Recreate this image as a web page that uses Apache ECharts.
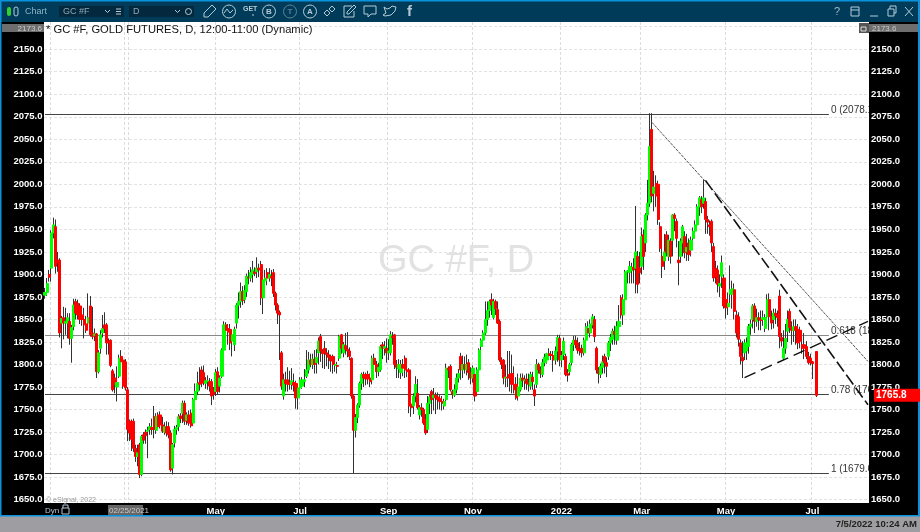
<!DOCTYPE html>
<html>
<head>
<meta charset="utf-8">
<style>html,body{margin:0;padding:0;background:#fff}#chart{width:920px;height:532px}</style>
<script src="https://cdn.jsdelivr.net/npm/echarts@6/dist/echarts.min.js"></script>
</head>
<body>
<div id="chart"></div>
<script>
// daily OHLC, 10 bars per line
const opens = [
1877,1880,1900,1907,1946,1953,1916,1916,1846,1852,
1846,1846,1848,1829,1842,1870,1868,1865,1855,1850,
1845,1846,1865,1835,1832,1834,1792,1818,1835,1844,
1844,1826,1827,1793,1785,1775,1787,1809,1805,1803,
1772,1737,1737,1737,1707,1698,1711,1678,1722,1725,
1726,1728,1730,1742,1727,1744,1744,1733,1725,1731,
1731,1724,1685,1713,1728,1731,1743,1746,1757,1738,
1744,1746,1735,1761,1770,1780,1794,1791,1779,1781,
1781,1781,1772,1770,1792,1776,1787,1816,1844,1840,
1839,1826,1822,1846,1866,1870,1881,1872,1881,1897,
1896,1900,1903,1903,1907,1911,1874,1893,1902,1896,
1898,1902,1879,1866,1858,1813,1765,1783,1783,1780,
1778,1780,1779,1763,1774,1776,1781,1787,1794,1805,
1800,1806,1802,1813,1831,1815,1818,1813,1811,1809,
1809,1799,1799,1807,1833,1813,1821,1817,1815,1807,
1765,1727,1741,1755,1779,1789,1789,1789,1785,1783,
1807,1800,1792,1794,1822,1818,1818,1813,1813,1831,
1833,1800,1795,1791,1800,1807,1794,1794,1756,1754,
1765,1768,1744,1752,1750,1739,1728,1757,1770,1763,
1766,1764,1762,1759,1754,1761,1796,1798,1770,1766,
1772,1785,1809,1794,1800,1794,1802,1791,1785,1789,
1770,1794,1820,1827,1835,1850,1860,1872,1852,1870,
1861,1848,1805,1805,1785,1786,1789,1790,1778,1778,
1765,1772,1785,1782,1784,1780,1776,1786,1772,1778,
1800,1794,1789,1802,1805,1812,1811,1810,1805,1815,
1829,1805,1811,1809,1790,1792,1802,1822,1827,1824,
1817,1818,1813,1827,1840,1835,1844,1850,1818,1794,
1789,1797,1809,1802,1809,1824,1828,1837,1827,1842,
1874,1855,1872,1903,1902,1904,1908,1907,1920,1907,
1909,1944,1935,1966,1979,2061,1990,2001,2000,1953,
1920,1915,1944,1920,1937,1938,1966,1959,1916,1920,
1935,1942,1925,1935,1927,1940,1948,1955,1975,1983,
1979,1981,1961,1955,1959,1931,1907,1905,1887,1898,
1896,1872,1864,1878,1878,1883,1855,1853,1824,1808,
1813,1815,1820,1842,1850,1865,1848,1852,1851,1850,
1840,1853,1872,1853,1850,1857,1855,1876,1830,1807,
1818,1837,1859,1841,1838,1842,1839,1838,1822,1822,
1820,1809,1807,1803,null,1814.5];
const closes = [
1880,1890,1897,1946,1955,1909,1913,1835,1851,1846,
1848,1852,1829,1841,1866,1857,1855,1850,1850,1844,
1838,1852,1833,1831,1834,1792,1813,1833,1840,1840,
1824,1824,1799,1772,1778,1780,1807,1803,1776,1774,
1728,1724,1717,1707,1698,1702,1678,1720,1716,1721,
1727,1731,1728,1728,1742,1731,1733,1726,1731,1724,
1722,1683,1711,1728,1730,1742,1740,1757,1737,1744,
1735,1732,1761,1770,1779,1778,1779,1780,1782,1782,
1776,1765,1767,1791,1770,1785,1816,1844,1838,1836,
1824,1833,1839,1866,1870,1881,1871,1882,1898,1896,
1902,1905,1901,1907,1905,1874,1894,1896,1896,1900,
1896,1879,1866,1857,1855,1776,1783,1779,1778,1778,
1782,1777,1763,1774,1783,1783,1783,1794,1805,1800,
1806,1800,1808,1826,1815,1812,1813,1811,1808,1804,
1800,1800,1798,1831,1818,1822,1817,1815,1809,1765,
1727,1741,1755,1779,1789,1785,1784,1784,1781,1807,
1800,1792,1797,1820,1818,1820,1813,1815,1833,1830,
1800,1797,1800,1800,1796,1794,1792,1754,1752,1765,
1778,1752,1752,1750,1735,1724,1757,1764,1761,1766,
1763,1761,1759,1757,1759,1796,1794,1772,1767,1772,
1785,1790,1794,1800,1795,1800,1791,1785,1796,1765,
1794,1816,1827,1835,1850,1860,1870,1866,1870,1862,
1846,1805,1800,1785,1786,1785,1785,1778,1772,1763,
1775,1785,1782,1783,1779,1778,1789,1781,1765,1800,
1794,1790,1802,1808,1812,1810,1810,1805,1815,1830,
1805,1810,1826,1789,1788,1800,1822,1827,1822,1816,
1815,1813,1827,1842,1835,1845,1853,1831,1794,1790,
1798,1803,1802,1798,1824,1830,1837,1833,1842,1848,
1855,1872,1903,1904,1909,1908,1905,1925,1889,1902,
1942,1920,1966,1979,2042,1987,1997,1987,1961,1929,
1909,1925,1924,1938,1920,1966,1962,1940,1913,1937,
1953,1924,1930,1922,1938,1948,1955,1975,1985,1975,
1985,1961,1958,1953,1935,1896,1898,1889,1890,1913,
1865,1863,1868,1883,1884,1859,1835,1828,1809,1804,
1824,1824,1842,1845,1865,1848,1852,1850,1849,1852,
1852,1872,1853,1846,1857,1854,1852,1831,1826,1818,
1829,1850,1841,1838,1842,1838,1824,1826,1818,1818,
1809,1802,1802,1801,null,1765.8];
const lows = [
1873,1876,1892,1892,1940,1901,1903,1830,1818,1828,
1833,1829,1822,1802,1838,1850,1850,1845,1843,1829,
1835,1844,1831,1828,1826,1785,1790,1812,1830,1835,
1811,1811,1797,1770,1768,1759,1785,1800,1773,1771,
1715,1715,1704,1703,1692,1687,1674,1676,1712,1712,
1696,1722,1722,1718,1723,1727,1729,1724,1722,1720,
1718,1681,1678,1708,1722,1726,1735,1735,1733,1733,
1732,1730,1732,1760,1766,1771,1775,1777,1773,1772,
1770,1755,1761,1765,1767,1769,1785,1812,1826,1822,
1816,1809,1815,1840,1851,1863,1866,1868,1875,1889,
1892,1891,1898,1896,1897,1866,1856,1885,1888,1892,
1887,1875,1860,1845,1805,1772,1761,1770,1770,1772,
1772,1770,1751,1750,1768,1773,1775,1785,1790,1797,
1795,1790,1790,1800,1803,1796,1795,1798,1795,1792,
1790,1792,1790,1804,1812,1808,1811,1808,1805,1762,
1679,1719,1735,1752,1772,1775,1777,1778,1775,1778,
1790,1785,1787,1792,1806,1810,1802,1805,1810,1822,
1795,1785,1785,1784,1787,1785,1786,1746,1742,1745,
1758,1750,1739,1742,1733,1722,1724,1745,1745,1749,
1745,1750,1750,1749,1750,1759,1785,1770,1762,1764,
1768,1780,1783,1785,1790,1788,1783,1778,1780,1759,
1768,1790,1815,1822,1833,1843,1852,1855,1850,1855,
1845,1803,1795,1778,1775,1775,1770,1768,1768,1761,
1760,1770,1775,1772,1772,1770,1772,1772,1754,1774,
1790,1785,1786,1798,1801,1806,1805,1792,1800,1803,
1798,1797,1805,1787,1781,1788,1799,1815,1818,1812,
1810,1808,1810,1822,1830,1830,1840,1825,1790,1779,
1785,1790,1790,1786,1805,1815,1822,1822,1822,1840,
1851,1844,1870,1890,1890,1890,1890,1879,1879,1890,
1900,1905,1925,1960,1975,1980,1970,1975,1955,1925,
1896,1905,1920,1915,1912,1920,1948,1930,1888,1913,
1920,1918,1915,1915,1920,1930,1940,1950,1965,1968,
1973,1945,1945,1943,1925,1892,1890,1880,1875,1885,
1862,1851,1855,1868,1862,1850,1830,1820,1800,1785,
1805,1805,1812,1833,1840,1835,1842,1838,1838,1843,
1836,1850,1838,1839,1840,1845,1842,1818,1820,1805,
1812,1825,1835,1822,1825,1822,1817,1818,1812,1806,
1806,1800,1799,1784,null,1764];
const highs = [
1885,1896,1905,1949,1963,1961,1925,1918,1854,1864,
1863,1857,1857,1844,1873,1873,1872,1868,1862,1863,
1854,1879,1876,1864,1840,1835,1816,1838,1855,1858,
1846,1829,1828,1795,1790,1798,1811,1816,1808,1806,
1775,1739,1739,1740,1711,1711,1713,1722,1725,1728,
1731,1735,1740,1754,1746,1747,1748,1742,1736,1737,
1736,1727,1713,1732,1733,1745,1746,1760,1760,1747,
1749,1750,1763,1779,1792,1797,1798,1799,1786,1788,
1785,1784,1775,1795,1797,1788,1818,1848,1847,1845,
1845,1836,1842,1868,1880,1891,1887,1888,1901,1905,
1908,1915,1908,1919,1912,1915,1899,1905,1907,1907,
1905,1906,1881,1868,1860,1815,1790,1792,1797,1793,
1796,1790,1782,1778,1786,1786,1795,1816,1814,1812,
1812,1816,1817,1830,1834,1817,1826,1818,1816,1811,
1811,1804,1803,1833,1834,1825,1835,1836,1819,1808,
1766,1745,1757,1781,1791,1792,1791,1793,1790,1810,
1812,1804,1802,1822,1825,1826,1829,1828,1837,1836,
1834,1805,1806,1805,1806,1810,1800,1796,1760,1768,
1787,1784,1755,1757,1752,1745,1765,1766,1772,1774,
1769,1769,1766,1765,1762,1801,1798,1800,1772,1778,
1790,1795,1813,1810,1809,1811,1806,1797,1799,1792,
1797,1818,1829,1838,1870,1870,1872,1879,1873,1872,
1870,1850,1808,1806,1800,1815,1815,1811,1798,1786,
1790,1790,1790,1788,1790,1790,1792,1792,1778,1806,
1802,1798,1806,1812,1813,1818,1815,1815,1820,1833,
1833,1815,1830,1812,1795,1802,1824,1832,1832,1830,
1825,1822,1830,1846,1848,1850,1856,1854,1820,1797,
1801,1810,1812,1808,1826,1834,1840,1843,1848,1866,
1877,1878,1905,1905,1915,1913,1918,1976,1926,1925,
1952,1950,1968,2005,2079,2079,2015,2010,2004,1958,
1930,1945,1948,1944,1940,1967,1968,1962,1937,1940,
1955,1948,1945,1940,1942,1952,1960,1978,1987,1987,
2005,1985,1965,1960,1961,1935,1915,1910,1900,1921,
1900,1880,1880,1910,1893,1890,1860,1858,1828,1826,
1828,1830,1845,1850,1867,1868,1862,1858,1860,1860,
1856,1878,1879,1860,1862,1862,1860,1883,1835,1838,
1845,1860,1862,1848,1850,1850,1845,1842,1832,1835,
1826,1814,1812,1804,null,1815];

const lastPrice = 1765.8;
const topPrice = 2173.6;

// fib levels
const fibLevels = [2078.1, 1832, 1767.3, 1679.6];
const fibNames = ['0 (2078.1)', '0.618 (1832.0)', '0.78 (1767.3)', '1 (1679.6)'];

// trend lines as [bar index, price]
const thinTrend = [[295, 2068.8], [400, 1803.5]];
const fallTrend = [[321, 2004.4], [400, 1755.4]];
const riseTrend = [[340, 1785.4], [400, 1847.9]];

// axis ticks
const gridPrices = [1650,1675,1700,1725,1750,1775,1800,1825,1850,1875,1900,1925,1950,1975,2000,2025,2050,2075,2100,2125,2150,2175];
const labelPrices = [1650,1675,1700,1725,1750,1775,1800,1825,1850,1875,1900,1925,1950,1975,2000,2025,2050,2075,2100,2125,2150];
const monthBars = [3, 39, 41, 83, 124, 167, 208, 251, 290, 331, 373];
const monthNames = ['', '', '', 'May', 'Jul', 'Sep', 'Nov', '2022', 'Mar', 'May', 'Jul'];

// weekdays for the category axis, with blank room after the last bar
const categories = [];
const day = new Date(Date.UTC(2021, 0, 1));
while (categories.length < 401) {
    if (day.getUTCDay() % 6 !== 0) categories.push(day.toISOString().slice(0, 10));
    day.setUTCDate(day.getUTCDate() + 1);
}

const wickData = opens.map((o, i) => o === null ? '-' : [o, closes[i], lows[i], highs[i]]);
const bodyData = opens.map((o, i) => o === null ? '-' : [o, closes[i], Math.min(o, closes[i]), Math.max(o, closes[i])]);

const FONT = '"Liberation Sans", Arial, sans-serif';
const ICON = '#b4cad6';

const rect = (x, y, w, h, fill, z) => ({type: 'rect', z: z === undefined ? -1 : z, silent: true, shape: {x, y, width: w, height: h}, style: {fill}});
const text = (s, x, y, size, fill, o) => ({type: 'text', z: 8, silent: true, x, y, style: Object.assign({text: s, fill, font: size + 'px ' + FONT, textVerticalAlign: 'middle'}, o || {})});
const poly = (pts, stroke) => ({type: 'polyline', z: 8, silent: true, shape: {points: pts}, style: {stroke: stroke || ICON, lineWidth: 1, fill: 'none'}});
const ring = (x, y, r, stroke) => ({type: 'circle', z: 8, silent: true, shape: {cx: x, cy: y, r}, style: {stroke: stroke || ICON, lineWidth: 1, fill: 'none'}});

function frameParts(priceY) {
    return [
        rect(0, 0, 920, 22, '#003c5a'),
        rect(0, 22, 44, 482, '#000'),
        rect(869, 22, 51, 482, '#000', 3),
        rect(0, 503, 920, 13, '#000'),
        rect(0, 516, 920, 16, '#9e9ea2'),
        rect(0, 0, 920, 1.5, '#0a93dc', 6),
        rect(0, 0, 1.5, 516, '#0a93dc', 6),
        rect(918, 0, 2, 516, '#0a93dc', 6),
        rect(0, 515, 920, 1.5, '#0a93dc', 6),
        // price tags
        rect(2, 24, 42, 8, '#6e6e6e', 5),
        rect(869, 24, 49, 8, '#6e6e6e', 5),
        rect(859, 23, 10, 10, '#555', 5),
        rect(874, priceY - 6.5, 46, 13, '#ff0000', 6),
        text(lastPrice.toFixed(1), 876, priceY, 'bold 10', '#fff'),
        text(topPrice.toFixed(1), 42, 28.5, 8, '#ccc', {textAlign: 'right'}),
        text(topPrice.toFixed(1), 872, 28.5, 8, '#ccc'),
        poly([[861, 27], [861, 31], [866, 31], [866, 27], [861, 27]], '#ddd'),
        // chart texts
        Object.assign(text('GC #F, D', 378, 262, 38, '#e2e2e2'), {z: 1}),
        text('* GC #F, GOLD FUTURES, D, 12:00-11:00 (Dynamic)', 46, 30, 11.2, '#111'),
        text('\u00a9 eSignal, 2022', 46, 500, 7, '#999'),
        text('Dyn', 45, 511, 8, '#b8c8d8'),
        poly([[62, 508], [62, 514], [69, 514], [69, 508], [62, 508]], '#b8c8d8'),
        poly([[63, 508], [63, 505], [68, 505], [68, 508]], '#b8c8d8'),
        rect(108, 505, 35, 11, '#666', 5),
        text('02/25/2021', 109, 510.5, 8, '#ccc'),
        text('7/5/2022 10:24 AM', 917, 524, 'bold 9.5', '#222', {textAlign: 'right'}),
        // toolbar left
        {type: 'rect', z: 8, silent: true, shape: {x: 7, y: 7, width: 4, height: 9, r: 2}, style: {fill: '#2fd02f'}},
        {type: 'rect', z: 8, silent: true, shape: {x: 14, y: 7, width: 4, height: 9, r: 2}, style: {stroke: ICON, fill: 'none'}},
        text('Chart', 25, 11.5, 9, '#8fb0c2'),
        rect(59, 6, 65, 11, '#04293e', 7),
        text('GC #F', 63, 11.5, 9, '#8fa8b6'),
        poly([[105, 10], [107.5, 12.5], [110, 10]]),
        poly([[116, 9], [121, 9]]), poly([[116, 11.5], [121, 11.5]]), poly([[116, 14], [121, 14]]),
        rect(129, 6, 65, 11, '#04293e', 7),
        text('D', 133, 11.5, 9, '#8fa8b6'),
        poly([[175, 10], [177.5, 12.5], [180, 10]]),
        ring(188.5, 11.5, 3),
        // toolbar icons
        poly([[204, 17], [204, 13], [212, 5], [216, 9], [208, 17], [204, 17]]),
        ring(229, 11.5, 6.5), poly([[224, 13], [227, 9], [230, 13], [233, 10]]),
        text('GET', 243, 9, 'bold 7', ICON),
        poly([[253, 14], [253, 16]]),
        ring(269, 11.5, 6.5), text('B', 269, 11.5, 'bold 8', ICON, {textAlign: 'center'}),
        ring(290, 11.5, 6.5, '#5b8296'), text('T', 290, 11.5, 'bold 8', '#5b8296', {textAlign: 'center'}),
        ring(310, 11.5, 6.5), text('A', 310, 11.5, 'bold 8', ICON, {textAlign: 'center'}),
        poly([[324, 13], [327, 10], [330, 13], [327, 16], [324, 13]]),
        poly([[329, 9], [332, 6], [335, 9], [332, 12], [329, 9]]),
        poly([[352, 6], [344, 6], [344, 17], [354, 17], [354, 11]]),
        poly([[347, 14], [347, 12], [354, 5], [356, 7], [349, 14], [347, 14]]),
        poly([[364, 6], [376, 6], [376, 14], [371, 14], [368, 17], [368, 14], [364, 14], [364, 6]]),
        poly([[384, 7], [387, 9], [390, 8], [392, 6], [396, 7], [395, 11], [391, 15], [385, 16], [383, 15], [386, 13], [384, 7]]),
        text('f', 407, 11.5, 'bold 15', ICON),
        // toolbar right
        text('?', 834, 11.5, 11, '#9db8c6'),
        poly([[851, 7], [859, 7], [859, 16], [851, 16], [851, 7]]), poly([[851, 10], [859, 10]]),
        poly([[870, 16], [878, 16]]),
        poly([[888, 9], [888, 16], [894, 16], [894, 9], [888, 9]]), poly([[890, 9], [890, 6], [896, 6], [896, 13], [894, 13]]),
        poly([[905, 7], [913, 16]]), poly([[913, 7], [905, 16]])
    ];
}

const chart = echarts.init(document.getElementById('chart'), null, {renderer: 'canvas'});

const fibData = fibLevels.map((v, i) => [
    {coord: [0, v], label: {formatter: fibNames[i]}, lineStyle: {color: i === 1 ? '#888' : '#444'}},
    {coord: [381, v]}
]);

chart.setOption({
    animation: false,
    backgroundColor: '#fff',
    grid: {left: 44, right: 51, top: 22, bottom: 29},
    xAxis: {
        type: 'category',
        data: categories,
        boundaryGap: true,
        axisLine: {show: false},
        axisTick: {show: false},
        splitLine: {
            show: true,
            interval: (i) => monthBars.includes(i),
            lineStyle: {color: '#dcdcdc', type: [3, 2]}
        },
        axisLabel: {
            interval: (i) => monthNames[monthBars.indexOf(i)] ? true : false,
            formatter: (v) => monthNames[monthBars.indexOf(categories.indexOf(v))] || '',
            color: '#fff',
            fontFamily: FONT,
            fontWeight: 'bold',
            fontSize: 9.5,
            margin: 3
        }
    },
    yAxis: [
        {
            type: 'value',
            position: 'left',
            min: 1646.3,
            max: 2180.2,
            axisLine: {show: false},
            axisTick: {show: false, customValues: gridPrices},
            splitLine: {show: true, lineStyle: {color: '#e2e2e2', type: [3, 2]}},
            axisLabel: {
                customValues: labelPrices,
                formatter: (v) => v.toFixed(1),
                color: '#fff',
                fontFamily: FONT,
                fontWeight: 'bold',
                fontSize: 9.5,
                margin: 1.5,
                padding: [2, 0, 0, 0]
            }
        },
        {
            type: 'value',
            position: 'right',
            z: 4,
            min: 1646.3,
            max: 2180.2,
            axisLine: {show: false},
            axisTick: {show: false, customValues: labelPrices},
            splitLine: {show: false},
            axisLabel: {
                customValues: labelPrices,
                formatter: (v) => v.toFixed(1),
                color: '#fff',
                fontFamily: FONT,
                fontWeight: 'bold',
                fontSize: 9.5,
                margin: 2,
                padding: [2, 0, 0, 0]
            }
        }
    ],
    series: [
        {
            // thin dark bars for the day's range
            type: 'candlestick',
            data: wickData,
            barWidth: 1,
            progressive: 0,
            silent: true,
            itemStyle: {color: '#333', color0: '#333', borderColor: '#333', borderColor0: '#333', borderWidth: 1},
            markLine: {
                silent: true,
                z: 2,
                symbol: 'none',
                animation: false,
                lineStyle: {type: 'solid', width: 1},
                label: {position: 'end', distance: 2, offset: [0, -4], color: '#333', fontFamily: FONT, fontSize: 10},
                data: fibData
            }
        },
        {
            // open-close bodies on top
            type: 'candlestick',
            data: bodyData,
            barWidth: 2.6,
            progressive: 0,
            silent: true,
            itemStyle: {color: '#00ff00', color0: '#ff0000', borderColor: '#00ff00', borderColor0: '#ff0000', borderWidth: 1}
        },
        {type: 'line', data: thinTrend, showSymbol: false, silent: true, lineStyle: {color: '#555', width: 1, type: [3, 1]}},
        {type: 'line', data: fallTrend, showSymbol: false, silent: true, lineStyle: {color: '#111', width: 1.6, type: [12, 4]}},
        {type: 'line', data: riseTrend, showSymbol: false, silent: true, lineStyle: {color: '#111', width: 1.4, type: [12, 6]}}
    ]
});

chart.setOption({graphic: frameParts(chart.convertToPixel({yAxisIndex: 0}, lastPrice))});
</script>
</body>
</html>
